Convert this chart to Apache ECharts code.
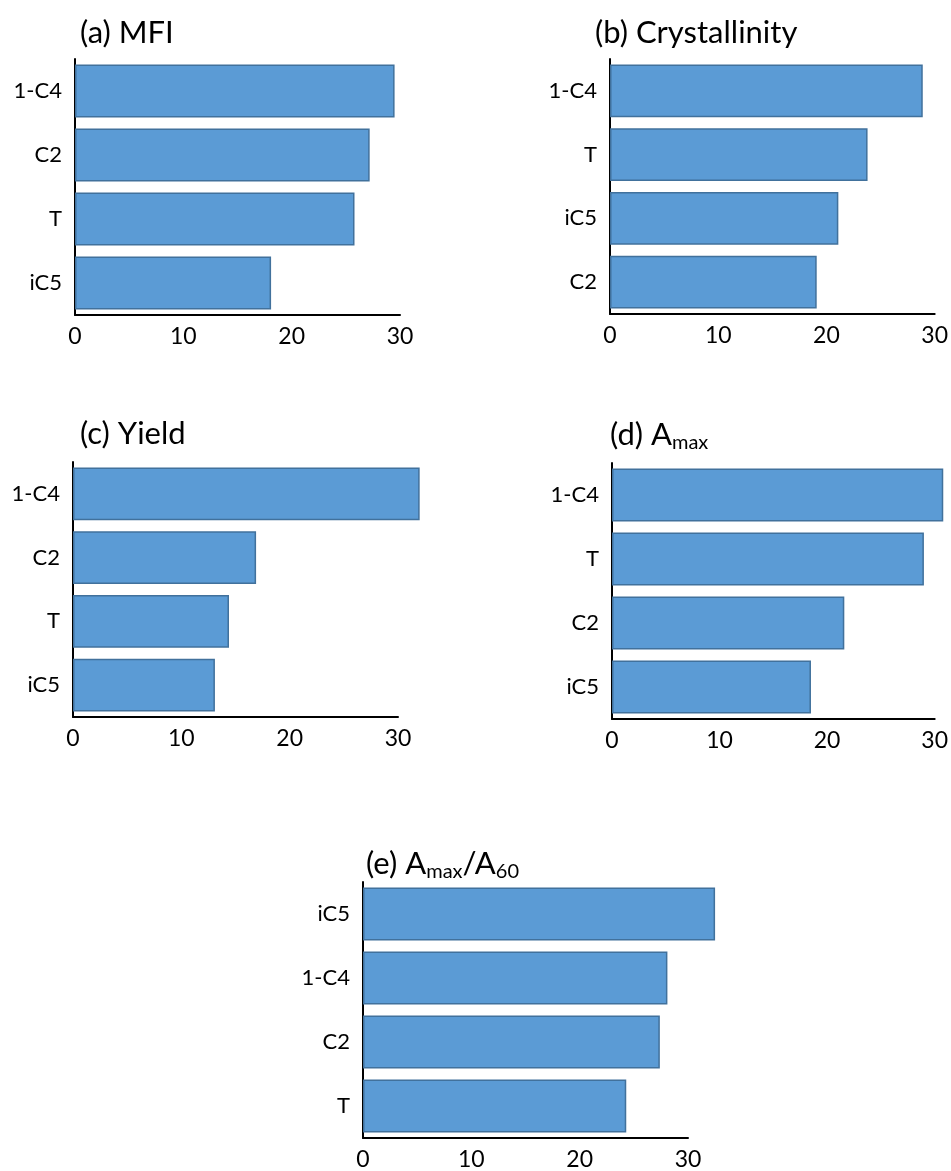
<!DOCTYPE html>
<html>
<head>
<meta charset="utf-8">
<script src="https://cdn.jsdelivr.net/npm/echarts@6/dist/echarts.min.js"></script>
<style>
  html, body { margin: 0; padding: 0; background: #ffffff; }
  #chart { width: 951px; height: 1171px; }
</style>
</head>
<body>
<div id="chart"></div>
<script>
// Panel data: categories listed top to bottom, values in the same order
const mfiCats = ['1-C4', 'C2', 'T', 'iC5'];
const mfiVals = [29.5, 27.2, 25.8, 18.1];

const crystCats = ['1-C4', 'T', 'iC5', 'C2'];
const crystVals = [28.9, 23.8, 21.1, 19.1];

const yieldCats = ['1-C4', 'C2', 'T', 'iC5'];
const yieldVals = [32.0, 16.9, 14.4, 13.1];

const amaxCats = ['1-C4', 'T', 'C2', 'iC5'];
const amaxVals = [30.8, 29.0, 21.6, 18.5];

const ratioCats = ['iC5', '1-C4', 'C2', 'T'];
const ratioVals = [32.5, 28.1, 27.4, 24.3];

const xTicks = [0, 10, 20, 30];

const FONT = 'Lato, "Open Sans", sans-serif';

const panels = [
  { title: '(a) MFI', cats: mfiCats, vals: mfiVals,
    grid: { left: 75, top: 59, width: 325, height: 256 }, tl: { left: 80, top: 15 } },
  { title: '(b) Crystallinity', cats: crystCats, vals: crystVals,
    grid: { left: 610, top: 59, width: 325, height: 255 }, tl: { left: 595, top: 15 } },
  { title: '(c) Yield', cats: yieldCats, vals: yieldVals,
    grid: { left: 73, top: 462, width: 325, height: 255 }, tl: { left: 80, top: 416 } },
  { title: '(d) A{sub|max}', cats: amaxCats, vals: amaxVals,
    grid: { left: 612, top: 463, width: 325, height: 256 }, tl: { left: 610, top: 417 } },
  { title: '(e) A{sub|max}/A{sub|60}', cats: ratioCats, vals: ratioVals,
    grid: { left: 363, top: 882, width: 325, height: 256 }, tl: { left: 366, top: 846 } }
];

const option = {
  animation: false,
  backgroundColor: '#ffffff',
  title: panels.map(p => ({
    text: p.title,
    left: p.tl.left,
    top: p.tl.top,
    padding: 0,
    textStyle: {
      fontFamily: FONT,
      fontSize: 31,
      fontWeight: 'normal',
      color: '#000000',
      lineHeight: 36,
      rich: {
        sub: {
          fontFamily: FONT,
          fontSize: 20,
          color: '#000000',
          verticalAlign: 'bottom',
          lineHeight: 36,
          padding: [13, 0, 0, 0]
        }
      }
    }
  })),
  grid: panels.map(p => Object.assign({ containLabel: false }, p.grid)),
  xAxis: panels.map((p, i) => ({
    type: 'value',
    gridIndex: i,
    min: xTicks[0],
    max: xTicks[xTicks.length - 1],
    interval: xTicks[1] - xTicks[0],
    axisLine: { show: true, lineStyle: { color: '#000000', width: 2 } },
    axisTick: { show: false },
    splitLine: { show: false },
    axisLabel: { fontFamily: FONT, fontSize: 23, color: '#000000', margin: 10 }
  })),
  yAxis: panels.map((p, i) => ({
    type: 'category',
    gridIndex: i,
    data: p.cats,
    inverse: true,
    axisLine: { show: true, lineStyle: { color: '#000000', width: 2 } },
    axisTick: { show: false },
    axisLabel: { fontFamily: FONT, fontSize: 22, color: '#000000', margin: 13 }
  })),
  series: panels.map((p, i) => ({
    type: 'bar',
    xAxisIndex: i,
    yAxisIndex: i,
    data: p.vals,
    clip: false,
    barCategoryGap: '17%',
    itemStyle: { color: '#5B9BD5', borderColor: '#41719C', borderWidth: 1.5 }
  }))
};

const chart = echarts.init(document.getElementById('chart'), null, { renderer: 'canvas' });
chart.setOption(option);
</script>
</body>
</html>
